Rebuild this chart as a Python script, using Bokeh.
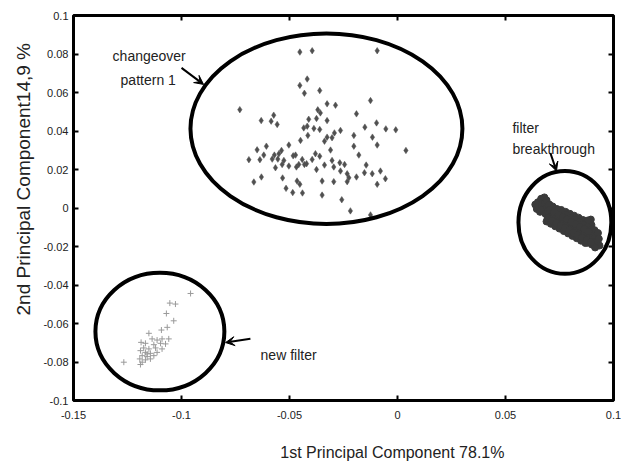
from bokeh.plotting import figure
from bokeh.models import (FixedTicker, LinearAxis, Range1d, Label, Arrow, VeeHead, Title)
from bokeh.embed import file_html
from bokeh.resources import INLINE

# ---- data ----
changeover_x = [-0.0452, -0.0395, -0.0094, -0.0418, -0.0452, -0.0431, -0.0360, -0.0730, -0.0125,
                -0.0631, -0.0585, -0.0557, -0.0573, -0.0326, -0.0287, -0.0369, -0.0375, -0.0357,
                -0.0190, -0.0097, -0.0151, -0.0054, -0.0008, -0.0411, -0.0434, -0.0418, -0.0387,
                -0.0360, -0.0326, -0.0264, -0.0292, -0.0303, -0.0326, -0.0338, -0.0449, -0.0415,
                -0.0202, -0.0116, -0.0094, -0.0202, -0.0650, -0.0607, -0.0503, -0.0537, -0.0570,
                -0.0549, -0.0688, -0.0637, -0.0580, -0.0554, -0.0526, -0.0472, -0.0483, -0.0441,
                -0.0421, -0.0395, -0.0380, -0.0360, -0.0310, -0.0179, 0.0039, -0.0619, -0.0565,
                -0.0534, -0.0503, -0.0468, -0.0457, -0.0431, -0.0375, -0.0338, -0.0303, -0.0295,
                -0.0267, -0.0245, -0.0264, -0.0233, -0.0225, -0.0190, -0.0153, -0.0117, -0.0079,
                -0.0056, -0.0145, -0.0665, -0.0630, -0.0532, -0.0465, -0.0452, -0.0349, -0.0295,
                -0.0233, -0.0094, -0.0516, -0.0485, -0.0440, -0.0349, -0.0258, -0.0218, -0.0125]
changeover_y = [0.0810, 0.0817, 0.0817, 0.0670, 0.0637, 0.0596, 0.0610, 0.0511, 0.0558,
                0.0454, 0.0451, 0.0434, 0.0482, 0.0541, 0.0534, 0.0510, 0.0465, 0.0494,
                0.0489, 0.0442, 0.0420, 0.0411, 0.0406, 0.0461, 0.0416, 0.0425, 0.0413,
                0.0408, 0.0454, 0.0403, 0.0390, 0.0365, 0.0368, 0.0347, 0.0351, 0.0377,
                0.0377, 0.0368, 0.0327, 0.0321, 0.0302, 0.0321, 0.0327, 0.0299, 0.0275,
                0.0282, 0.0251, 0.0251, 0.0254, 0.0254, 0.0247, 0.0275, 0.0271, 0.0252,
                0.0230, 0.0252, 0.0282, 0.0269, 0.0301, 0.0275, 0.0299, 0.0275, 0.0209,
                0.0226, 0.0218, 0.0213, 0.0226, 0.0226, 0.0200, 0.0223, 0.0247, 0.0213,
                0.0235, 0.0226, 0.0192, 0.0178, 0.0157, 0.0161, 0.0183, 0.0178, 0.0192,
                0.0152, 0.0223, 0.0135, 0.0161, 0.0156, 0.0140, 0.0123, 0.0140, 0.0137,
                0.0137, 0.0123, 0.0102, 0.0080, 0.0078, 0.0067, 0.0043, -0.0015, -0.0036]

breakthrough_x = [0.0638, 0.0645, 0.0650, 0.0655, 0.0660, 0.0665, 0.0668, 0.0672, 0.0680, 0.0682,
                  0.0685, 0.0690, 0.0693, 0.0698, 0.0703, 0.0708, 0.0712, 0.0718, 0.0722, 0.0728,
                  0.0732, 0.0738, 0.0742, 0.0748, 0.0752, 0.0758, 0.0762, 0.0768, 0.0772, 0.0778,
                  0.0782, 0.0788, 0.0792, 0.0798, 0.0802, 0.0808, 0.0812, 0.0818, 0.0822, 0.0828,
                  0.0832, 0.0838, 0.0842, 0.0848, 0.0852, 0.0858, 0.0862, 0.0868, 0.0872, 0.0878,
                  0.0882, 0.0888, 0.0892, 0.0898, 0.0902, 0.0908, 0.0912, 0.0918, 0.0922, 0.0928,
                  0.0932, 0.0900, 0.0880, 0.0860, 0.0935, 0.0915, 0.0895, 0.0880,
                  0.0700, 0.0720, 0.0740, 0.0760, 0.0780, 0.0800, 0.0820, 0.0840, 0.0860, 0.0880,
                  0.0900, 0.0690, 0.0710, 0.0730, 0.0750, 0.0770, 0.0790, 0.0810, 0.0830, 0.0850,
                  0.0870,
                  0.0695, 0.0715, 0.0735, 0.0755, 0.0775, 0.0795, 0.0815, 0.0835, 0.0855, 0.0875,
                  0.0895, 0.0705, 0.0725, 0.0745, 0.0765, 0.0785, 0.0805, 0.0825, 0.0845, 0.0865,
                  0.0885]
breakthrough_y = [0.0018, -0.0005, 0.0030, 0.0010, -0.0020, 0.0048, 0.0015, -0.0008, 0.0055, 0.0025,
                  -0.0030, 0.0040, 0.0005, -0.0018, 0.0018, -0.0045, -0.0010, 0.0008, -0.0035, -0.0058,
                  -0.0015, -0.0005, -0.0042, -0.0068, -0.0025, -0.0010, -0.0050, -0.0078, -0.0035, -0.0020,
                  -0.0062, -0.0090, -0.0045, -0.0030, -0.0072, -0.0100, -0.0055, -0.0040, -0.0085, -0.0112,
                  -0.0065, -0.0050, -0.0095, -0.0125, -0.0078, -0.0062, -0.0108, -0.0138, -0.0090, -0.0075,
                  -0.0120, -0.0150, -0.0102, -0.0088, -0.0132, -0.0162, -0.0115, -0.0145, -0.0175, -0.0130,
                  -0.0160, -0.0190, -0.0180, -0.0165, -0.0195, -0.0205, -0.0060, -0.0065,
                  0.0014, 0.0001, -0.0011, -0.0024, -0.0036, -0.0049, -0.0061, -0.0074, -0.0086, -0.0099,
                  -0.0111, -0.0070, -0.0082, -0.0095, -0.0107, -0.0120, -0.0132, -0.0145, -0.0157, -0.0170,
                  -0.0182,
                  -0.0053, -0.0066, -0.0078, -0.0091, -0.0103, -0.0116, -0.0128, -0.0141, -0.0153, -0.0166,
                  -0.0178, -0.0009, -0.0022, -0.0034, -0.0047, -0.0059, -0.0072, -0.0084, -0.0097, -0.0109,
                  -0.0122]

newfilter_x = [-0.0958, -0.1054, -0.1028, -0.1070, -0.1036, -0.1066, -0.1093, -0.1151, -0.1136,
               -0.1113, -0.1090, -0.1059, -0.1187, -0.1167, -0.1128, -0.1097, -0.1074, -0.1175,
               -0.1151, -0.1120, -0.1090, -0.1190, -0.1167, -0.1144, -0.1113, -0.1182, -0.1159,
               -0.1128, -0.1193, -0.1167, -0.1144, -0.1182, -0.1267, -0.1190, -0.1159]
newfilter_y = [-0.0444, -0.0494, -0.0499, -0.0548, -0.0586, -0.0620, -0.0634, -0.0651, -0.0680,
               -0.0686, -0.0680, -0.0680, -0.0698, -0.0703, -0.0710, -0.0703, -0.0706, -0.0727,
               -0.0732, -0.0727, -0.0732, -0.0741, -0.0750, -0.0755, -0.0750, -0.0767, -0.0772,
               -0.0767, -0.0784, -0.0789, -0.0784, -0.0801, -0.0801, -0.0813, -0.0758]

ellipse_x = [-0.0329, 0.0775, -0.1100]
ellipse_y = [0.0412, -0.0075, -0.0642]
ellipse_w = [0.1259, 0.0430, 0.0597]
ellipse_h = [0.0990, 0.0534, 0.0611]

x_ticks = [-0.15, -0.1, -0.05, 0, 0.05, 0.1]
x_tick_labels = ["-0.15", "-0.1", "-0.05", "0", "0.05", "0.1"]
y_ticks = [-0.1, -0.08, -0.06, -0.04, -0.02, 0, 0.02, 0.04, 0.06, 0.08, 0.1]
y_tick_labels = ["-0.1", "-0.08", "-0.06", "-0.04", "-0.02", "0", "0.02", "0.04", "0.06", "0.08", "0.1"]

x_title = "1st Principal Component 78.1%"
y_title = "2nd Principal Component14,9 %"

FONT = "Liberation Sans"

p = figure(width=621, height=468, output_backend="svg", toolbar_location=None,
           x_range=Range1d(-0.15, 0.1), y_range=Range1d(-0.1, 0.1),
           min_border_left=73, min_border_right=8, min_border_top=15, min_border_bottom=68)
p.background_fill_color = "white"
p.border_fill_color = "white"
p.outline_line_color = "black"
p.outline_line_width = 3
p.xgrid.visible = False
p.ygrid.visible = False

def style_axis(ax, ticks, labels, show_labels):
    ax.ticker = FixedTicker(ticks=ticks)
    ax.axis_line_color = None
    ax.major_tick_in = 5
    ax.major_tick_out = 0
    ax.major_tick_line_width = 2
    ax.major_tick_line_color = "black"
    ax.minor_tick_line_color = None
    ax.major_label_text_font = FONT
    ax.major_label_text_font_size = "11px"
    ax.major_label_text_color = "#222222"
    if show_labels:
        ax.major_label_overrides = {t: l for t, l in zip(ticks, labels)}
    else:
        ax.major_label_overrides = {t: "" for t in ticks}

xa = p.xaxis[0]
style_axis(xa, x_ticks, x_tick_labels, True)
xa.major_label_standoff = 10
xa.axis_label = "\u00a0" * 22 + x_title
xa.axis_label_text_font = FONT
xa.axis_label_text_font_size = "16px"
xa.axis_label_text_font_style = "normal"
xa.axis_label_text_color = "#222222"
xa.axis_label_standoff = 22

style_axis(p.yaxis[0], y_ticks, y_tick_labels, True)
p.yaxis[0].major_label_standoff = 5

top_ax = LinearAxis()
style_axis(top_ax, x_ticks, x_tick_labels, False)
p.add_layout(top_ax, "above")
right_ax = LinearAxis()
style_axis(right_ax, y_ticks, y_tick_labels, False)
p.add_layout(right_ax, "right")

# clusters
p.scatter(changeover_x, changeover_y, marker="diamond", size=6.5, fill_color="#505050",
          line_color="#505050", line_width=0.5)
p.scatter(breakthrough_x, breakthrough_y, marker="circle", size=7, fill_color="#3a3a3a",
          line_color="#3a3a3a")
p.scatter(newfilter_x, newfilter_y, marker="cross", size=6, line_color="#9a9a9a", line_width=1)

p.ellipse(x=ellipse_x, y=ellipse_y, width=ellipse_w, height=ellipse_h,
          fill_color=None, line_color="black", line_width=4)

# annotations
def txt(x, y, s):
    p.add_layout(Label(x=x, y=y, text=s, text_font=FONT, text_font_size="14px",
                       text_color="#222222", text_align="left", text_baseline="middle"))

txt(-0.1319, 0.0788, "changeover")
txt(-0.1282, 0.0663, "pattern 1")
txt(0.0532, 0.0415, "filter")
txt(0.0532, 0.0306, "breakthrough")
txt(-0.0634, -0.0762, "new filter")

arrows = [(-0.1000, 0.0728, -0.0898, 0.0642),
          (0.0708, 0.0285, 0.0736, 0.0192),
          (-0.0681, -0.0679, -0.0796, -0.0699)]
for xs, ys, xe, ye in arrows:
    p.add_layout(Arrow(x_start=xs, y_start=ys, x_end=xe, y_end=ye, line_width=2,
                       line_color="black",
                       end=VeeHead(size=9, fill_color="black", line_color="black")))

# y axis title
p.add_layout(Title(text=y_title, align="left", offset=85, text_font=FONT,
                   text_font_size="19px", text_font_style="normal",
                   text_color="#222222", standoff=14), "left")

open("out.html", "w").write(file_html(p, INLINE))
